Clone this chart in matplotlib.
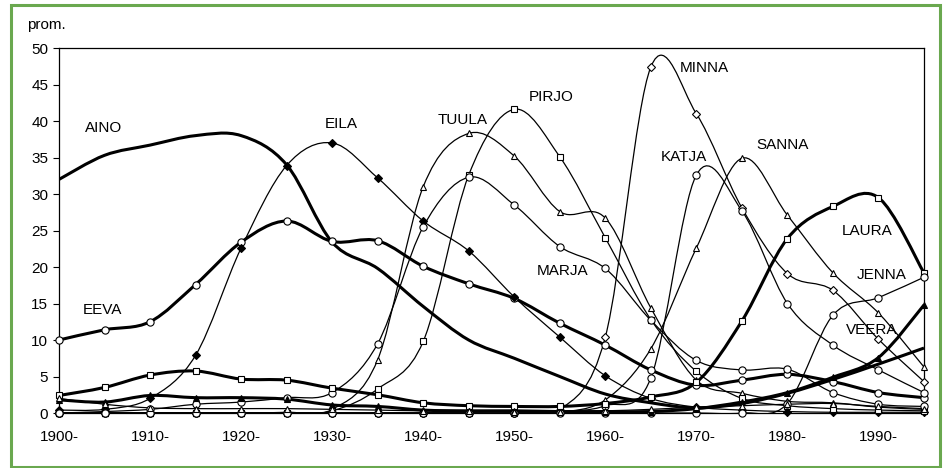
import matplotlib
matplotlib.use("Agg")
from matplotlib import pyplot as plt
from matplotlib.path import Path
from matplotlib.patches import PathPatch, Rectangle

plt.rcParams['font.family'] = ['Liberation Sans', 'DejaVu Sans']

years = list(range(1900, 2000, 5))
year_labels = [f'{y}-' for y in range(1900, 2000, 10)]

# values in promilles, one value per 5-year period 1900-1995
aino = [32.0, 35.3, 36.7, 38.0, 38.0, 34.0, 23.4, 19.8, 14.6, 10.0, 7.5, 5.0, 2.6, 1.4, 0.7, 1.3, 2.7, 4.6, 6.7, 8.9]
eeva = [10.0, 11.4, 12.5, 17.6, 23.4, 26.3, 23.5, 23.6, 20.1, 17.7, 15.7, 12.3, 9.3, 5.9, 3.8, 4.5, 5.3, 4.3, 2.8, 2.1]
eila = [0.4, 0.5, 2.0, 7.9, 22.6, 33.9, 37.0, 32.2, 26.3, 22.2, 15.9, 10.4, 5.1, 2.0, 0.8, 0.4, 0.2, 0.1, 0.1, 0.1]
tuula = [0.0, 0.0, 0.0, 0.0, 0.0, 0.1, 0.5, 7.3, 31.0, 38.3, 35.2, 27.6, 26.7, 14.4, 4.5, 2.7, 1.6, 1.4, 0.8, 0.5]
pirjo = [0.0, 0.0, 0.0, 0.0, 0.0, 0.0, 0.3, 3.3, 9.8, 32.6, 41.6, 35.1, 24.0, 12.8, 5.7, 2.0, 1.0, 0.6, 0.4, 0.3]
marja = [0.0, 0.2, 0.5, 1.2, 1.5, 2.1, 2.8, 9.5, 25.5, 32.3, 28.5, 22.8, 19.8, 12.7, 7.2, 5.9, 6.0, 2.8, 1.2, 0.9]
minna = [0.0, 0.0, 0.0, 0.0, 0.0, 0.0, 0.0, 0.0, 0.0, 0.0, 0.0, 0.4, 10.4, 47.4, 41.0, 28.1, 19.1, 16.8, 10.1, 4.3]
katja = [0.0, 0.0, 0.0, 0.0, 0.0, 0.0, 0.0, 0.0, 0.0, 0.0, 0.0, 0.2, 1.0, 4.8, 32.6, 27.7, 15.0, 9.3, 5.9, 2.8]
sanna = [0.0, 0.0, 0.0, 0.0, 0.0, 0.0, 0.0, 0.0, 0.0, 0.0, 0.0, 0.1, 1.8, 8.8, 22.6, 34.9, 27.1, 19.2, 13.7, 6.3]
laura = [2.4, 3.5, 5.2, 5.75, 4.65, 4.5, 3.4, 2.5, 1.4, 1.0, 0.9, 0.9, 1.3, 2.2, 4.2, 12.6, 23.9, 28.3, 29.5, 19.2]
jenna = [0.0, 0.0, 0.0, 0.0, 0.0, 0.0, 0.0, 0.0, 0.0, 0.0, 0.0, 0.0, 0.0, 0.0, 0.0, 0.0, 1.3, 13.4, 15.8, 18.6]
veera = [1.8, 1.5, 2.4, 2.1, 2.1, 1.9, 1.1, 0.9, 0.4, 0.3, 0.3, 0.2, 0.2, 0.2, 0.6, 1.5, 2.8, 4.9, 7.6, 14.8]
muu = [2.0, 1.2, 0.7, 0.6, 0.6, 0.6, 0.5, 0.4, 0.3, 0.3, 0.2, 0.2, 0.3, 0.5, 0.8, 1.0, 1.2, 1.3, 0.9, 0.6]

# (name, values, thick line?, marker, filled marker?, label x, label y)
series = [
    ('AINO', aino, True, None, False, 1904.9, 39.0),
    ('EEVA', eeva, True, 'o', False, 1904.8, 14.1),
    ('EILA', eila, False, 'D', True, 1931.0, 39.6),
    ('TUULA', tuula, False, '^', False, 1944.3, 40.1),
    ('PIRJO', pirjo, False, 's', False, 1954.1, 43.3),
    ('MARJA', marja, False, 'o', False, 1955.3, 19.4),
    ('MINNA', minna, False, 'D', False, 1970.9, 47.2),
    ('KATJA', katja, False, 'o', False, 1968.6, 35.1),
    ('SANNA', sanna, False, '^', False, 1979.5, 36.7),
    ('LAURA', laura, True, 's', False, 1988.8, 24.9),
    ('JENNA', jenna, False, 'o', False, 1990.4, 18.9),
    ('VEERA', veera, True, '^', True, 1989.3, 11.4),
    ('', muu, False, '^', False, None, None),
]


def smooth_path(x, y):
    # Excel-style smoothed line: cubic Bezier segments through the points
    verts = [(x[0], y[0])]
    codes = [Path.MOVETO]
    n = len(x)
    for i in range(n - 1):
        a = max(i - 1, 0)
        b = min(i + 2, n - 1)
        c1 = (x[i] + (x[i + 1] - x[a]) / 6, y[i] + (y[i + 1] - y[a]) / 6)
        c2 = (x[i + 1] - (x[b] - x[i]) / 6, y[i + 1] - (y[b] - y[i]) / 6)
        verts += [c1, c2, (x[i + 1], y[i + 1])]
        codes += [Path.CURVE4] * 3
    return Path(verts, codes)


fig = plt.figure(figsize=(9.47, 4.68), dpi=100)
ax = fig.add_axes([0.0623, 0.1175, 0.9134, 0.7799])

for name, vals, thick, marker, filled, lx, ly in series:
    lw = 2.2 if thick else 0.9
    ax.add_patch(PathPatch(smooth_path(years, vals), fill=False, edgecolor='black',
                           linewidth=lw, zorder=2))
    if marker:
        ms = {'o': 5.2, 's': 4.4, '^': 5.0, 'D': 3.6}[marker]
        ax.plot(years, vals, linestyle='none', marker=marker, markersize=ms,
                markerfacecolor='black' if filled else 'white',
                markeredgecolor='black', markeredgewidth=0.8, zorder=3, clip_on=False)
    if lx is not None:
        ax.text(lx, ly, name, fontsize=11, ha='center', va='center', zorder=4)

ax.set_xlim(1900, 1995)
ax.set_ylim(0, 50)
ax.set_yticks(range(0, 51, 5))
ax.set_xticks(range(1900, 1995, 10))
ax.set_xticklabels(year_labels)
ax.set_xticks(years, minor=True)
ax.tick_params(axis='y', direction='out', length=4.3, width=0.8, pad=3.5, labelsize=11)
ax.tick_params(axis='x', which='both', direction='out', length=2.5, width=0.8, pad=9.5, labelsize=11)
for sp in ax.spines.values():
    sp.set_linewidth(0.9)
    sp.set_color('black')

fig.text(27 / 947, 1 - 25 / 468, 'prom.', fontsize=11, ha='left', va='center')

# green frame around the whole chart
fig.add_artist(Rectangle((11 / 947, 1 / 468), 929 / 947, 462 / 468, transform=fig.transFigure,
                         fill=False, edgecolor='#6aa84f', linewidth=2.2))

fig.savefig('out.png', dpi=100)
